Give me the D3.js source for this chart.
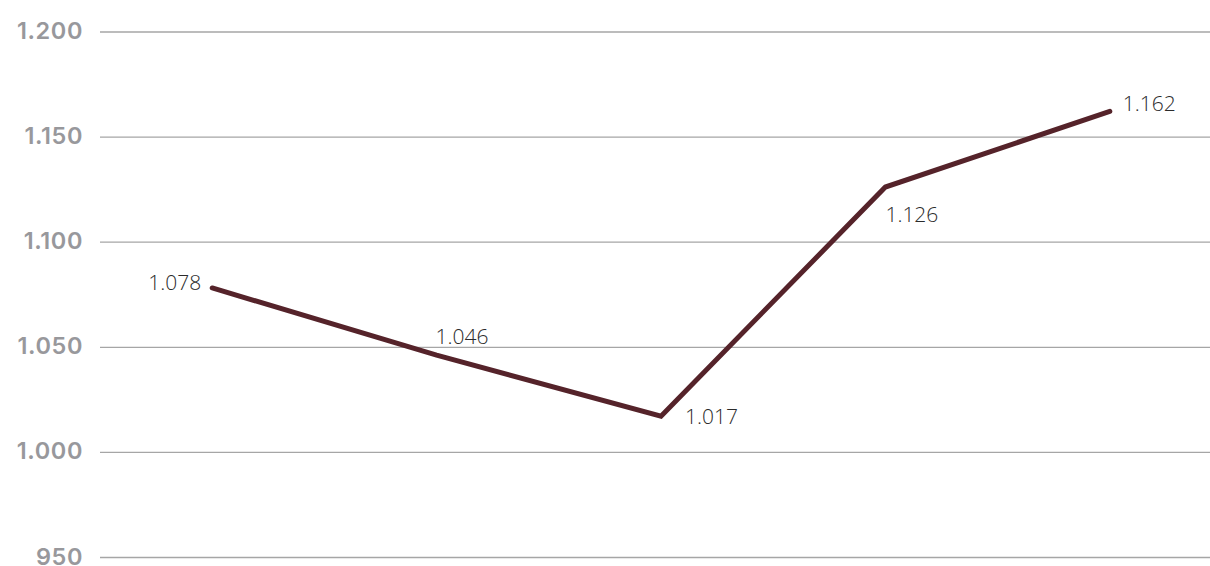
<!DOCTYPE html>
<html>
<head>
<meta charset="utf-8">
<script src="https://cdn.jsdelivr.net/npm/d3@7"></script>
<style>
  body { margin: 0; background: #fff; }
  svg { display: block; }
</style>
</head>
<body>
<div id="chart"></div>
<script>
const categories = ["P1", "P2", "P3", "P4", "P5"];
const values = [1078, 1046, 1017, 1126, 1162];
const yTicks = [950, 1000, 1050, 1100, 1150, 1200];

const width = 1210;
const height = 566;

// thousands with a dot, like the source
const fmt = (v) => {
  const s = String(v);
  return s.length > 3 ? s.slice(0, -3) + "." + s.slice(-3) : s;
};

const svg = d3.select("#chart").append("svg")
  .attr("width", width)
  .attr("height", height);

const x = d3.scalePoint()
  .domain(categories)
  .range([100, 1222])
  .padding(0.5);

const y = d3.scaleLinear()
  .domain([950, 1200])
  .range([557, 31.5]);

const yAxis = svg.append("g")
  .attr("transform", "translate(100,0)")
  .call(d3.axisLeft(y).tickValues(yTicks).tickFormat(fmt).tickSize(-1110).tickPadding(17));

yAxis.select(".domain").remove();
yAxis.selectAll(".tick line")
  .attr("stroke", "#a6a6a6")
  .attr("stroke-width", 1.3);
yAxis.selectAll(".tick text")
  .attr("font-family", "Inter, 'Open Sans', sans-serif")
  .attr("font-weight", 600)
  .attr("font-size", 23.5)
  .attr("letter-spacing", 0.6)
  .attr("dy", "0.3em")
  .attr("fill", "#98989c");

const line = d3.line()
  .x((d, i) => x(categories[i]))
  .y((d) => y(d));

svg.append("path")
  .datum(values)
  .attr("fill", "none")
  .attr("stroke", "#55232a")
  .attr("stroke-width", 5)
  .attr("stroke-linecap", "round")
  .attr("stroke-linejoin", "miter")
  .attr("d", line);

// where each label sits relative to its point
const labelPlace = [
  { dx: -11, dy: 2, anchor: "end" },
  { dx: -1, dy: -11, anchor: "start" },
  { dx: 24, dy: 8, anchor: "start" },
  { dx: 0, dy: 35, anchor: "start" },
  { dx: 13, dy: 0, anchor: "start" }
];

svg.selectAll("text.lbl")
  .data(values)
  .enter()
  .append("text")
  .attr("class", "lbl")
  .attr("x", (d, i) => x(categories[i]) + labelPlace[i].dx)
  .attr("y", (d, i) => y(d) + labelPlace[i].dy)
  .attr("text-anchor", (d, i) => labelPlace[i].anchor)
  .attr("font-family", "'Open Sans', sans-serif")
  .attr("font-weight", 300)
  .attr("font-size", 21)
  .attr("fill", "#2b2b2b")
  .text((d) => fmt(d));
</script>
</body>
</html>
